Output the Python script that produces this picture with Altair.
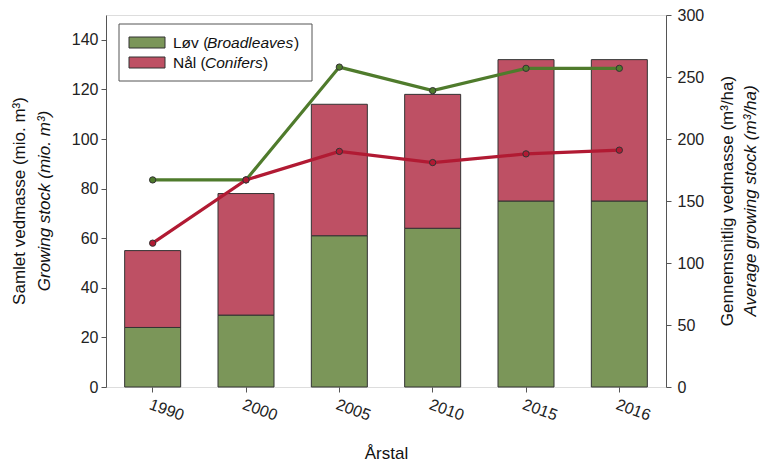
import altair as alt
import pandas as pd

years = ["1990", "2000", "2005", "2010", "2015", "2016"]
lov_total = [24, 29, 61, 64, 75, 75]          # mio. m3 (broadleaves)
nal_total = [31, 49, 53, 54, 57, 57]          # mio. m3 (conifers)
lov_avg = [167, 167, 258, 239, 257, 257]      # m3/ha
nal_avg = [116, 167, 190, 181, 188, 191]      # m3/ha
series = ["Løv", "Nål"]

FONT = "Liberation Sans"
BAR_COLORS = ["#7b9659", "#be5064"]
LINE_COLORS = ["#4f7b2c", "#b11a33"]

bars_df = pd.DataFrame({
    "År": years * 2,
    "Art": [series[0]] * len(years) + [series[1]] * len(years),
    "Vedmasse": lov_total + nal_total,
    "ord": [0] * len(years) + [1] * len(years),
})
lines_df = pd.DataFrame({
    "År": years * 2,
    "Serie": [series[0]] * len(years) + [series[1]] * len(years),
    "Gennemsnit": lov_avg + nal_avg,
})
one = pd.DataFrame({"a": [0]})

x_enc = alt.X("År:N", sort=years,
              scale=alt.Scale(paddingInner=0.4, paddingOuter=0.2),
              axis=alt.Axis(title="Årstal", labelAngle=20, labelAlign="left", labelBaseline="top",
                            labelFontSize=16, titleFontSize=17,
                            titleFontWeight="normal", domain=False, tickSize=5,
                            tickColor="#555", labelColor="#222", titleColor="#111",
                            labelFont=FONT, titleFont=FONT, titlePadding=22, labelPadding=4))

bars = alt.Chart(bars_df).mark_bar(stroke="#333", strokeWidth=1).encode(
    x=x_enc,
    y=alt.Y("Vedmasse:Q", stack="zero",
            scale=alt.Scale(domain=[0, 150], nice=False),
            axis=alt.Axis(title=None, values=list(range(0, 141, 20)), grid=False,
                          labelFontSize=16, labelFont=FONT, labelColor="#222",
                          tickSize=5, tickColor="#555", domainColor="#555", labelPadding=3)),
    color=alt.Color("Art:N", scale=alt.Scale(domain=series, range=BAR_COLORS), legend=None),
    order=alt.Order("ord:Q", sort="ascending"),
)

lines = alt.Chart(lines_df).mark_line(
    strokeWidth=3.2,
    point=alt.OverlayMarkDef(filled=True, size=40, stroke="#333", strokeWidth=1),
).encode(
    x=alt.X("År:N", sort=years),
    y=alt.Y("Gennemsnit:Q",
            scale=alt.Scale(domain=[0, 300], nice=False),
            axis=alt.Axis(title=None, orient="right", values=list(range(0, 301, 50)), grid=False,
                          labelFontSize=16, labelFont=FONT, labelColor="#222",
                          tickSize=5, tickColor="#555", domainColor="#555", labelPadding=6)),
    color=alt.Color("Serie:N", scale=alt.Scale(domain=series, range=LINE_COLORS), legend=None),
)

def txt(text, x, y, size=17, style="normal", angle=0, align="center"):
    return alt.Chart(one).mark_text(
        text=text, font=FONT, fontSize=size, fontStyle=style, angle=angle,
        align=align, baseline="middle", color="#111",
    ).encode(x=alt.value(x), y=alt.value(y))

# axis titles (two lines, second italic)
titles = [
    txt("Samlet vedmasse (mio. m³)", -86, 186, angle=270),
    txt("Growing stock (mio. m³)", -61, 186, style="italic", angle=270),
    txt("Gennemsnitlig vedmasse (m³/ha)", 622, 186, angle=270),
    txt("Average growing stock (m³/ha)", 645, 186, style="italic", angle=270),
]

# legend box
box = alt.Chart(one).mark_rect(fill="white", stroke="#555", strokeWidth=1).encode(
    x=alt.value(13), x2=alt.value(206), y=alt.value(9), y2=alt.value(66))
sw1 = alt.Chart(one).mark_rect(fill=BAR_COLORS[0], stroke="#333", strokeWidth=1).encode(
    x=alt.value(23), x2=alt.value(59), y=alt.value(22), y2=alt.value(33))
sw2 = alt.Chart(one).mark_rect(fill=BAR_COLORS[1], stroke="#333", strokeWidth=1).encode(
    x=alt.value(23), x2=alt.value(59), y=alt.value(42), y2=alt.value(53))
LS = 15.5
leg = [
    txt("Løv (", 67, 28, size=LS, align="left"),
    txt("Broadleaves", 101, 28, size=LS, style="italic", align="left"),
    txt(")", 188, 28, size=LS, align="left"),
    txt("Nål (", 67, 48, size=LS, align="left"),
    txt("Conifers", 99, 48, size=LS, style="italic", align="left"),
    txt(")", 157, 48, size=LS, align="left"),
]

chart = alt.layer(bars, lines, box, sw1, sw2, *leg, *titles).resolve_scale(
    y="independent", color="independent"
).properties(
    width=560, height=372,
    autosize=alt.AutoSizeParams(type="none"),
    padding={"left": 98, "top": 7, "right": 100, "bottom": 75},
).configure_view(stroke="#555", strokeWidth=1).configure(background="white")

chart.save("out.html", embed_options={"renderer": "svg", "actions": False})
